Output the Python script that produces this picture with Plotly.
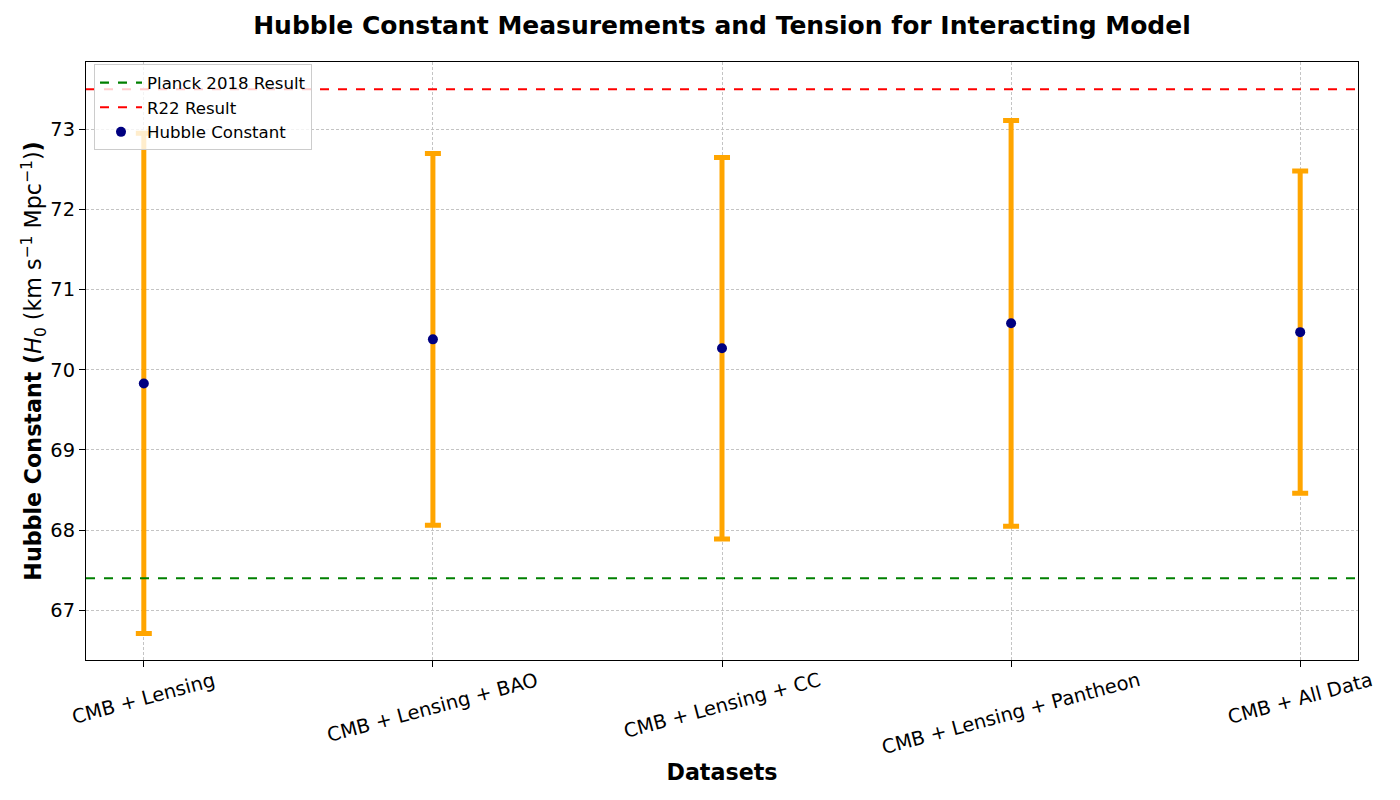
import plotly.graph_objects as go

datasets = ["CMB + Lensing", "CMB + Lensing + BAO", "CMB + Lensing + CC",
            "CMB + Lensing + Pantheon", "CMB + All Data"]
h0_values = [69.83, 70.38, 70.27, 70.58, 70.47]
h0_errors = [3.12, 2.32, 2.38, 2.53, 2.01]
planck_h0 = 67.4
r22_h0 = 73.5

font_family = "DejaVu Sans"

fig = go.Figure()

fig.add_trace(go.Scatter(
    x=datasets, y=h0_values, mode="markers", name="Hubble Constant",
    marker=dict(color="navy", size=10),
    error_y=dict(type="data", array=h0_errors, visible=True,
                 color="orange", thickness=5, width=8),
    legendrank=3,
))

fig.add_shape(type="line", xref="x domain", yref="y", x0=0, x1=1,
              y0=planck_h0, y1=planck_h0,
              line=dict(color="green", width=2.2, dash="dash"),
              showlegend=True, name="Planck 2018 Result", legendrank=1)
fig.add_shape(type="line", xref="x domain", yref="y", x0=0, x1=1,
              y0=r22_h0, y1=r22_h0,
              line=dict(color="red", width=2.2, dash="dash"),
              showlegend=True, name="R22 Result", legendrank=2)

# Centered rotated category labels (matplotlib style)
for name in datasets:
    fig.add_annotation(x=name, y=0, xref="x", yref="paper", text=name,
                       showarrow=False, textangle=-15, xanchor="center",
                       yanchor="top", yshift=-6,
                       font=dict(size=19.4, family=font_family, color="black"))

fig.update_layout(
    width=1400, height=800,
    paper_bgcolor="white", plot_bgcolor="white",
    font=dict(family=font_family, color="black", size=19.4),
    margin=dict(l=78, r=50, t=54, b=148, autoexpand=False),
    title=dict(text="<b>Hubble Constant Measurements and Tension for Interacting Model</b>",
               x=0.5, xref="paper", xanchor="center", y=0.978, yanchor="middle",
               font=dict(size=25, family=font_family)),
    legend=dict(x=0.0063, y=0.996, xanchor="left", yanchor="top",
                bgcolor="rgba(255,255,255,0.8)", bordercolor="#cccccc", borderwidth=1,
                font=dict(size=16.6, family=font_family), tracegroupgap=0,
                itemwidth=42),
    showlegend=True,
)

fig.update_xaxes(
    range=[-0.2, 4.2], showticklabels=False,
    title=dict(text="<b>Datasets</b>", font=dict(size=22.2), standoff=98),
    showline=True, linecolor="black", linewidth=1.2, mirror=True,
    ticks="outside", ticklen=6, tickcolor="black",
    showgrid=True, gridcolor="#c4c4c4", griddash="3px,2px", gridwidth=0.6,
    automargin=False,
)
fig.update_yaxes(
    range=[66.38, 73.84], dtick=1,
    title=dict(text="<b>Hubble Constant (</b><i>H</i><sub>0</sub> (km s<sup>−1</sup> Mpc<sup>−1</sup>)<b>)</b>",
               font=dict(size=22.2), standoff=2),
    showline=True, linecolor="black", linewidth=1.2, mirror=True,
    ticks="outside", ticklen=6, tickcolor="black",
    showgrid=True, gridcolor="#c4c4c4", griddash="3px,2px", gridwidth=0.6,
    zeroline=False, tickfont=dict(size=19.4), automargin=False,
)

fig.write_html("out.html")
